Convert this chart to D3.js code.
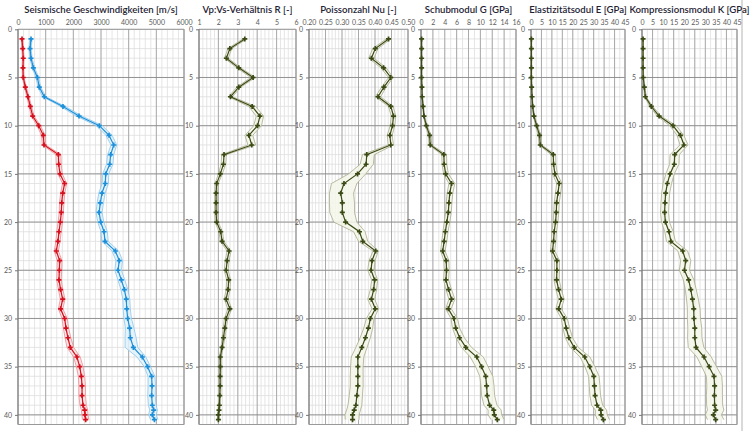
<!DOCTYPE html>
<html><head><meta charset="utf-8">
<script src="https://cdn.jsdelivr.net/npm/d3@7"></script>
<style>body{margin:0;background:#fff}svg{display:block}</style>
</head><body><svg id="c" width="750" height="431"></svg>
<script>
const depths = [1,2,3,4,5,6,7,8,9,10,11,12,13,14,15,16,17,18,19,20,21,22,23,24,25,26,27,28,29,30,31,32,33,34,35,36,37,38,39,39.5,40,40.5];

const vs = [145,170,190,180,190,265,360,445,530,750,915,940,1460,1470,1520,1685,1615,1580,1565,1530,1480,1445,1385,1505,1495,1480,1540,1615,1540,1685,1735,1805,1890,2130,2230,2290,2315,2315,2350,2410,2420,2445];
const vsLo = [115,140,160,150,160,230,320,400,480,690,850,880,1370,1380,1440,1610,1540,1500,1490,1450,1400,1370,1310,1420,1410,1400,1460,1530,1460,1590,1640,1700,1770,2010,2110,2180,2200,2200,2240,2290,2310,2330];
const vsHi = [175,200,220,210,220,300,400,490,580,810,980,1000,1550,1560,1600,1760,1690,1660,1640,1610,1560,1520,1460,1590,1580,1560,1620,1700,1620,1780,1830,1910,2010,2250,2350,2410,2440,2440,2470,2520,2530,2560];

const vp = [470,435,470,555,700,770,950,1625,2205,2940,3290,3460,3350,3315,3170,3155,3035,2975,2930,2990,3110,3145,3520,3660,3615,3735,3845,3915,3930,3965,4035,4060,4170,4495,4685,4830,4845,4830,4855,4905,4855,4930];
const vpLo = [430,395,430,510,650,720,890,1540,2100,2830,3180,3360,3240,3200,3060,3040,2920,2860,2820,2880,3000,3030,3400,3540,3500,3610,3720,3790,3800,3830,3880,3870,3870,4300,4560,4700,4700,4690,4710,4760,4720,4790];
const vpHi = [510,475,510,600,750,820,1010,1710,2310,3050,3400,3570,3460,3430,3280,3270,3150,3090,3040,3100,3230,3260,3640,3780,3740,3860,3970,4040,4060,4100,4190,4270,4330,4620,4790,4950,4970,4960,4990,5040,5000,5060];

const ratio = [3.36,2.59,2.41,3.05,3.79,3.05,2.62,3.74,4.14,4.02,3.57,3.72,2.29,2.26,2.10,1.91,1.88,1.88,1.88,1.91,2.12,2.19,2.55,2.45,2.40,2.53,2.50,2.40,2.59,2.40,2.33,2.26,2.19,2.10,2.10,2.09,2.09,2.07,2.05,2.03,2.00,2.00];
const ratioLo = [3.26,2.49,2.31,2.95,3.67,2.95,2.52,3.56,3.95,3.82,3.37,3.52,2.17,2.14,2.00,1.83,1.81,1.81,1.81,1.83,2.03,2.10,2.45,2.35,2.30,2.43,2.40,2.30,2.49,2.31,2.25,2.19,2.13,2.05,2.05,2.04,2.04,2.02,2.00,1.98,1.95,1.95];
const ratioHi = [3.46,2.69,2.51,3.15,3.91,3.15,2.72,3.92,4.33,4.22,3.77,3.92,2.41,2.38,2.20,1.99,1.95,1.95,1.95,1.99,2.21,2.28,2.65,2.55,2.50,2.63,2.60,2.50,2.69,2.49,2.41,2.33,2.25,2.15,2.15,2.14,2.14,2.12,2.10,2.08,2.05,2.05];

const nu = [0.441,0.401,0.389,0.426,0.448,0.427,0.409,0.448,0.456,0.453,0.445,0.448,0.375,0.373,0.347,0.306,0.296,0.301,0.301,0.311,0.353,0.363,0.402,0.391,0.388,0.399,0.396,0.389,0.401,0.386,0.380,0.371,0.360,0.348,0.348,0.348,0.348,0.345,0.342,0.337,0.332,0.332];
const nuLo = [0.434,0.393,0.381,0.418,0.441,0.420,0.401,0.441,0.449,0.446,0.437,0.440,0.362,0.355,0.320,0.268,0.262,0.262,0.263,0.275,0.335,0.350,0.394,0.382,0.378,0.390,0.386,0.378,0.391,0.374,0.366,0.355,0.342,0.328,0.326,0.325,0.325,0.322,0.318,0.314,0.309,0.310];
const nuHi = [0.448,0.409,0.397,0.434,0.455,0.434,0.417,0.455,0.463,0.460,0.452,0.456,0.398,0.395,0.372,0.345,0.335,0.338,0.338,0.345,0.370,0.378,0.410,0.400,0.397,0.408,0.405,0.399,0.411,0.397,0.393,0.386,0.376,0.366,0.364,0.364,0.364,0.362,0.360,0.356,0.352,0.352];

const shear = [0.1,0.1,0.1,0.1,0.1,0.15,0.2,0.35,0.5,0.9,1.45,1.55,3.85,3.9,4.15,5.15,4.85,4.7,4.6,4.35,4.1,3.9,3.65,4.25,4.3,4.2,4.65,5.15,4.6,5.55,5.85,6.5,7.55,9.4,10.2,10.9,11.05,11.15,11.55,12.25,12.35,12.85];
const shearLo = [0.05,0.05,0.05,0.05,0.05,0.1,0.15,0.28,0.42,0.75,1.25,1.35,3.5,3.55,3.8,4.7,4.4,4.25,4.15,3.9,3.7,3.5,3.3,3.85,3.9,3.8,4.2,4.7,4.15,5.05,5.3,5.9,6.8,8.3,9.2,9.9,10.1,10.2,10.6,11.3,11.3,11.8];
const shearHi = [0.15,0.15,0.15,0.15,0.15,0.22,0.28,0.45,0.62,1.05,1.7,1.8,4.3,4.35,4.6,5.7,5.35,5.2,5.1,4.85,4.55,4.35,4.05,4.7,4.75,4.65,5.15,5.7,5.1,6.15,6.5,7.3,8.5,10.5,11.3,12.1,12.3,12.4,12.8,13.5,13.6,14.0];

const young = [0.2,0.2,0.2,0.2,0.2,0.3,0.5,0.8,1.4,2.7,4.1,4.45,10.65,10.8,11.45,13.5,12.9,12.25,12.1,11.75,11.1,10.8,10.3,12.4,12.4,12.25,13.2,14.5,13.2,15.9,16.85,18.1,20.65,25.75,28.15,30.05,30.35,30.7,31.6,33.4,33.55,34.65];
const youngLo = [0.1,0.1,0.1,0.1,0.1,0.2,0.35,0.6,1.1,2.2,3.5,3.8,9.6,9.7,10.3,12.3,11.7,11.1,10.9,10.6,10.0,9.7,9.3,11.2,11.2,11.0,11.9,13.1,11.9,14.5,15.3,16.4,18.8,23.5,25.8,27.6,27.9,28.2,29.0,30.8,30.8,31.8];
const youngHi = [0.35,0.35,0.35,0.35,0.35,0.45,0.7,1.05,1.75,3.2,4.7,5.1,11.8,11.9,12.6,14.8,14.2,13.5,13.3,12.9,12.2,11.9,11.4,13.6,13.6,13.5,14.5,15.9,14.5,17.4,18.5,19.9,22.6,28.2,30.6,32.6,33.0,33.3,34.3,36.2,36.5,37.6];

const bulk = [0.5,0.5,0.5,0.5,0.6,1.1,1.6,4.4,8.1,14.7,18.2,19.9,15.5,15.3,13.3,12.0,11.2,10.9,10.7,11.1,12.8,13.7,19.3,20.7,20.1,22.1,23.1,23.9,24.5,24.6,25.0,25.0,25.6,29.4,31.8,34.1,34.4,34.3,34.4,34.9,33.8,34.9];
const bulkLo = [0.3,0.3,0.3,0.3,0.4,0.8,1.2,3.7,7.2,13.2,16.6,18.0,13.3,13.1,11.3,10.0,9.3,9.0,8.8,9.2,10.8,11.6,17.0,18.3,17.7,19.6,20.5,21.1,21.5,21.5,21.7,21.6,21.9,26.0,28.3,30.5,30.7,30.5,30.6,31.0,30.0,31.0];
const bulkHi = [0.7,0.7,0.7,0.7,0.8,1.4,2.0,5.1,9.0,16.2,19.8,21.8,17.7,17.5,15.3,14.0,13.1,12.8,12.6,13.0,14.8,15.8,21.6,23.1,22.5,24.6,25.7,26.7,27.5,27.7,28.3,28.4,29.3,32.8,35.3,37.8,38.1,38.1,38.2,38.8,37.6,38.8];

const titles = ["Seismische Geschwindigkeiten [m/s]","Vp:Vs-Verhältnis R [-]","Poissonzahl Nu [-]","Schubmodul G [GPa]","Elastizitätsodul E [GPa]","Kompressionsmodul K [GPa]"];
const depthTicks = [0,5,10,15,20,25,30,35,40];

const svg = d3.select("#c");
const y = d3.scaleLinear().domain([0,41]).range([29.3,424.5]);

const panels = [
  {x0:18,x1:184,dom:[0,6000],step:1000,minor:200,fmt:d=>d,
   series:[{v:vs,lo:vsLo,hi:vsHi,line:"#d4101e",band:"#ec8c92",fill:"#fbe3e4"},
           {v:vp,lo:vpLo,hi:vpHi,line:"#1c8fd8",band:"#8cc6ec",fill:"#e2f1fa"}]},
  {x0:199,x1:296,dom:[1,6],step:1,minor:0.2,fmt:d=>d,
   series:[{v:ratio,lo:ratioLo,hi:ratioHi}]},
  {x0:309,x1:408,dom:[0.2,0.5],step:0.05,minor:0.01,fmt:d3.format(".2f"),
   series:[{v:nu,lo:nuLo,hi:nuHi}]},
  {x0:421,x1:516,dom:[0,16],step:2,minor:1,fmt:d=>d,
   series:[{v:shear,lo:shearLo,hi:shearHi}]},
  {x0:531,x1:625,dom:[0,45],step:5,minor:2.5,fmt:d=>d,
   series:[{v:young,lo:youngLo,hi:youngHi}]},
  {x0:642,x1:737,dom:[0,45],step:5,minor:2.5,fmt:d=>d,
   series:[{v:bulk,lo:bulkLo,hi:bulkHi}]}
];

svg.append("line").attr("x1",742).attr("x2",742).attr("y1",0).attr("y2",431)
   .attr("stroke","#d9d9d9").attr("stroke-width",2);

panels.forEach((p,i)=>{
  const x = d3.scaleLinear().domain(p.dom).range([p.x0,p.x1]);
  const g = svg.append("g");
  const [yt,yb] = y.range();
  const nMinor = Math.round((p.dom[1]-p.dom[0])/p.minor);
  const minorX = d3.range(nMinor+1).map(k=>p.dom[0]+k*p.minor);
  g.selectAll(".mv").data(minorX).join("line")
    .attr("x1",d=>x(d)).attr("x2",d=>x(d)).attr("y1",yt).attr("y2",yb)
    .attr("stroke","#dedede").attr("stroke-width",0.8);
  g.selectAll(".mh").data(d3.range(0,42)).join("line")
    .attr("x1",p.x0).attr("x2",p.x1).attr("y1",d=>y(d)).attr("y2",d=>y(d))
    .attr("stroke","#dedede").attr("stroke-width",0.8);
  const nMaj = Math.round((p.dom[1]-p.dom[0])/p.step);
  const majX = d3.range(nMaj+1).map(k=>p.dom[0]+k*p.step);
  g.selectAll(".Mv").data(majX).join("line")
    .attr("x1",d=>x(d)).attr("x2",d=>x(d)).attr("y1",yt).attr("y2",yb)
    .attr("stroke","#9a9a9a").attr("stroke-width",0.8);
  g.selectAll(".Mh").data(depthTicks).join("line")
    .attr("x1",p.x0).attr("x2",p.x1).attr("y1",d=>y(d)).attr("y2",d=>y(d))
    .attr("stroke","#8a8a8a").attr("stroke-width",0.9);
  g.append("line").attr("x1",p.x0).attr("x2",p.x0).attr("y1",yt).attr("y2",yb).attr("stroke","#777");
  g.append("line").attr("x1",p.x1).attr("x2",p.x1).attr("y1",yt).attr("y2",yb).attr("stroke","#999");
  g.append("line").attr("x1",p.x0).attr("x2",p.x1).attr("y1",yb).attr("y2",yb).attr("stroke","#999");

  const ax = d3.axisTop(x).tickValues(majX).tickFormat(p.fmt).tickSize(0).tickPadding(4);
  const axG = g.append("g").attr("transform",`translate(0,${yt})`).call(ax);
  axG.select(".domain").remove();
  axG.selectAll("text").attr("font-family","Lato, 'Open Sans', sans-serif").attr("font-size",7).attr("fill","#5a5a5a");
  const ay = d3.axisLeft(y).tickValues(depthTicks).tickSize(3).tickPadding(3);
  const ayG = g.append("g").attr("transform",`translate(${p.x0},0)`).call(ay);
  ayG.select(".domain").remove();
  ayG.selectAll("line").attr("stroke","#777");
  ayG.selectAll("text").attr("font-family","Lato, 'Open Sans', sans-serif").attr("font-size",7).attr("fill","#5a5a5a");

  svg.append("text").attr("x",(p.x0+p.x1)/2).attr("y",13).attr("text-anchor","middle")
    .attr("font-family","Lato, 'Open Sans', sans-serif").attr("font-size",9.6).attr("font-weight",600)
    .attr("fill","#1e2233").text(titles[i]);

  p.series.forEach(s=>{
    const line = s.line||"#3a4a14", band = s.band||"#aaab8c", fill = s.fill||"#f4f6ea";
    const idx = d3.range(depths.length);
    const area = d3.area().x0(k=>x(s.lo[k])).x1(k=>x(s.hi[k])).y(k=>y(depths[k]));
    g.append("path").datum(idx).attr("d",area).attr("fill",fill).attr("opacity",0.85);
    const lLo = d3.line().x(k=>x(s.lo[k])).y(k=>y(depths[k]));
    const lHi = d3.line().x(k=>x(s.hi[k])).y(k=>y(depths[k]));
    g.append("path").datum(idx).attr("d",lLo).attr("fill","none").attr("stroke",band).attr("stroke-width",0.8);
    g.append("path").datum(idx).attr("d",lHi).attr("fill","none").attr("stroke",band).attr("stroke-width",0.8);
    const lm = d3.line().x(k=>x(s.v[k])).y(k=>y(depths[k]));
    g.append("path").datum(idx).attr("d",lm).attr("fill","none").attr("stroke",line).attr("stroke-width",1.2);
    g.selectAll(null).data(idx).join("path")
      .attr("transform",k=>`translate(${x(s.v[k])},${y(depths[k])})`)
      .attr("d",d3.symbol().type(d3.symbolCross).size(14)).attr("fill",line);
  });
});
</script></body></html>
